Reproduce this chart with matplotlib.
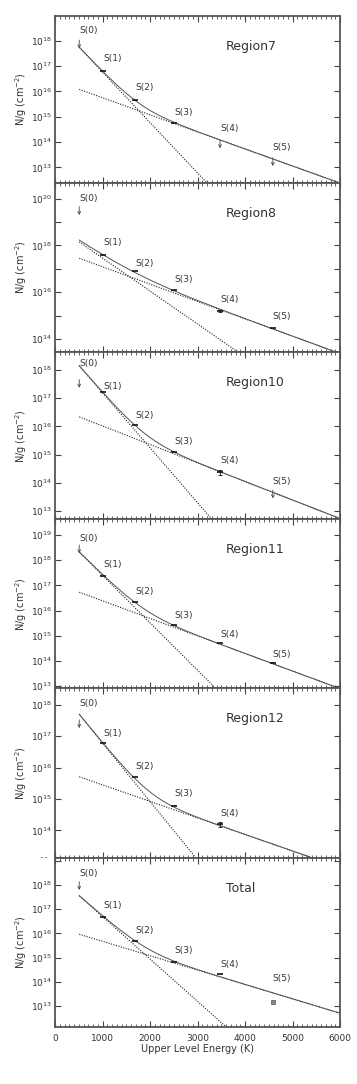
import numpy as np
import matplotlib
matplotlib.use("Agg")
import matplotlib.pyplot as plt
from matplotlib.ticker import LogLocator, MultipleLocator, NullLocator
from matplotlib.transforms import Bbox, TransformedBbox

plt.rcParams['font.family'] = ['DejaVu Sans']
plt.rcParams['mathtext.fontset'] = 'dejavusans'

# ---------------- data ----------------
panel_names = ["Region7", "Region8", "Region10", "Region11", "Region12", "Total"]
line_names = ["S(0)", "S(1)", "S(2)", "S(3)", "S(4)", "S(5)"]
energy = [510, 1015, 1682, 2504, 3474, 4586]   # upper level energy (K)

# log10(N/g) of each transition (None = not shown)
logN_r7 = [17.70, 16.80, 15.68, 14.76, 13.75, 13.05]
logN_r8 = [19.30, 17.60, 16.89, 16.10, 15.19, 14.45]
logN_r10 = [17.37, 17.21, 16.05, 15.09, 14.37, 13.45]
logN_r11 = [18.27, 17.38, 16.33, 15.42, 14.70, 13.92]
logN_r12 = [17.26, 16.80, 15.71, 14.77, 14.19, None]
logN_tot = [17.79, 16.69, 15.70, 14.83, 14.31, 13.18]

# error half-width in dex (0 = no visible bar)
err_r7 = [0, 0, 0, 0, 0, 0]
err_r8 = [0, 0, 0, 0, 0.05, 0]
err_r10 = [0, 0, 0, 0, 0.10, 0]
err_r11 = [0, 0, 0, 0, 0, 0]
err_r12 = [0, 0, 0, 0, 0.08, 0]
err_tot = [0, 0, 0, 0, 0, 0]

# upper limits (True = arrow)
lim_r7 = [True, False, False, False, True, True]
lim_r8 = [True, False, False, False, False, False]
lim_r10 = [True, False, False, False, False, True]
lim_r11 = [True, False, False, False, False, False]
lim_r12 = [True, False, False, False, False, False]
lim_tot = [True, False, False, False, False, False]

# label heights (log10)
lab_r7 = [18.40, 17.30, 16.16, 15.15, 14.54, 13.79]
lab_r8 = [20.00, 18.13, 17.23, 16.55, 15.69, 14.98]
lab_r10 = [18.24, 17.43, 16.38, 15.48, 14.78, 14.06]
lab_r11 = [18.87, 17.81, 16.75, 15.79, 15.06, 14.27]
lab_r12 = [18.05, 17.10, 16.05, 15.18, 14.54, None]
lab_tot = [18.48, 17.13, 16.10, 15.27, 14.72, 14.14]

# two-temperature fit: log10 N/g at 510 K and temperature (K) of each component
cold_logN = [17.74, 18.15, 18.15, 18.32, 17.70, 17.55]
cold_T = [218, 308, 223, 231, 233, 248]
warm_logN = [16.08, 17.45, 16.34, 16.73, 15.71, 15.96]
warm_T = [644, 585, 662, 624, 824, 731]

# y-axis limits (log10)
ylo = [12.38, 13.44, 12.71, 12.92, 13.11, 12.14]
yhi = [18.98, 20.67, 18.64, 19.62, 18.53, 19.10]
# largest labelled exponent per panel
ymax_lab = [18, 20, 18, 19, 18, 18]

all_logN = [logN_r7, logN_r8, logN_r10, logN_r11, logN_r12, logN_tot]
all_err = [err_r7, err_r8, err_r10, err_r11, err_r12, err_tot]
all_lim = [lim_r7, lim_r8, lim_r10, lim_r11, lim_r12, lim_tot]
all_lab = [lab_r7, lab_r8, lab_r10, lab_r11, lab_r12, lab_tot]

# ---------------- figure ----------------
W, H = 357, 1084
fig = plt.figure(figsize=(W / 100, H / 100), dpi=100)
tops = [16, 183, 352, 519.3, 688.3, 858.3]
bots = [183, 352, 519.3, 688.3, 858.3, 1026.7]
L, R = 55, 340

fg = '#333333'
E_grid = np.linspace(510, 6000, 600)

for i in range(6):
    ax = fig.add_axes([L / W, 1 - bots[i] / H, (R - L) / W, (bots[i] - tops[i]) / H])
    ax.set_yscale('log')
    ax.set_xlim(0, 6000)
    ax.set_ylim(10 ** ylo[i], 10 ** yhi[i])

    c = 10 ** (cold_logN[i] - np.log10(np.e) * (E_grid - 510) / cold_T[i])
    w = 10 ** (warm_logN[i] - np.log10(np.e) * (E_grid - 510) / warm_T[i])
    ax.plot(E_grid, c, ls=(0, (1, 1.3)), color='#222222', lw=0.8)
    ax.plot(E_grid, w, ls=(0, (1, 1.3)), color='#222222', lw=0.8)
    ax.plot(E_grid, c + w, ls='-', color='#555555', lw=0.7)

    for j in range(6):
        v = all_logN[i][j]
        if v is None:
            continue
        x = energy[j]
        if all_lim[i][j]:
            ax.annotate('', xy=(x, 10 ** v), xytext=(0, 6), textcoords='offset points',
                        arrowprops=dict(arrowstyle='->', color='#444444', lw=0.6,
                                        shrinkA=0, shrinkB=0, mutation_scale=5))
        elif i == 5 and j == 5:
            ax.plot([x], [10 ** v], marker='s', ms=3, color='#888888', mec='#555555', mew=0.5)
        else:
            e = all_err[i][j]
            if e > 0:
                ax.errorbar([x], [10 ** v],
                            yerr=[[10 ** v - 10 ** (v - e)], [10 ** (v + e) - 10 ** v]],
                            fmt='none', color='#111111', lw=0.6, capsize=1.5, capthick=0.6)
            ax.plot([x], [10 ** v], marker='_', ms=4, mew=1.2, color='#111111')
        lab = all_lab[i][j]
        ax.text(x, 10 ** lab, line_names[j], ha='left', va='center', fontsize=6.5, color=fg)

    ax.text(0.60, 0.82, panel_names[i], transform=ax.transAxes, ha='left', va='center',
            fontsize=9, color=fg)

    # ticks
    ax.xaxis.set_major_locator(MultipleLocator(1000))
    ax.xaxis.set_minor_locator(MultipleLocator(100))
    ax.yaxis.set_major_locator(LogLocator(base=10, numticks=20))
    ax.yaxis.set_minor_locator(NullLocator())

    def f(val, pos, _i=i):
        e = int(round(np.log10(val)))
        if e > ymax_lab[_i]:
            return ''
        if _i == 1 and e % 2 == 1:
            return ''
        return r'$\mathdefault{10^{%d}}$' % e
    ax.yaxis.set_major_formatter(plt.FuncFormatter(f))

    ax.tick_params(axis='both', which='both', direction='in', top=True, right=True,
                   color='#444444', labelcolor=fg, labelsize=6.5)
    ax.tick_params(axis='y', which='major', length=4, width=0.8, pad=2)
    ax.tick_params(axis='x', which='major', length=4, width=0.8)
    ax.tick_params(axis='x', which='minor', length=2, width=0.6)
    if i < 5:
        ax.tick_params(axis='x', labelbottom=False)
    else:
        ax.tick_params(axis='x', pad=5)
        ax.set_xlabel('Upper Level Energy (K)', fontsize=7, color=fg, labelpad=1)
    for s in ax.spines.values():
        s.set_linewidth(1.3)
        s.set_color('#555555')

    ax.set_ylabel(r'N/g (cm$^{-2}$)', fontsize=7, color=fg)
    ax.yaxis.set_label_coords(-0.09, 0.5)

    if i == 4:
        # partially hidden 10^13 label below the axis, cut at the panel boundary
        t = ax.text(-0.02, 10 ** 13, r'$\mathdefault{10^{13}}$', transform=ax.get_yaxis_transform(),
                    ha='right', va='center', fontsize=6.5, color=fg, clip_on=True)
        yb = 1 - bots[i] / H
        t.set_clip_box(TransformedBbox(Bbox([[0, yb], [1, 1]]), fig.transFigure))

fig.savefig('out.png', dpi=100, facecolor='white')
